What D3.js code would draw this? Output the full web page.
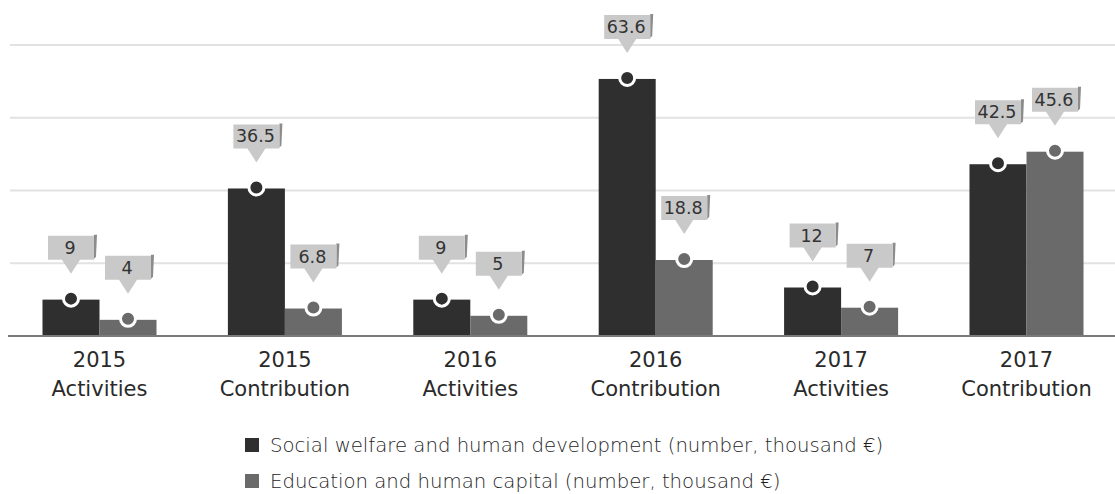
<!DOCTYPE html>
<html>
<head>
<meta charset="utf-8">
<script src="https://cdn.jsdelivr.net/npm/d3@7"></script>
<style>
  html, body { margin: 0; padding: 0; background: #fff; }
  svg { display: block; }
</style>
</head>
<body>
<svg id="chart" width="1115" height="494"></svg>
<script>
// Categories (two-line labels) and the two series, values in number / thousand €
const years = ["2015", "2015", "2016", "2016", "2017", "2017"];
const kinds = ["Activities", "Contribution", "Activities", "Contribution", "Activities", "Contribution"];
const socialWelfare = [9, 36.5, 9, 63.6, 12, 42.5];
const education = [4, 6.8, 5, 18.8, 7, 45.6];
const seriesNames = [
  "Social welfare and human development (number, thousand €)",
  "Education and human capital (number, thousand €)"
];
const gridTicks = [18, 36, 54, 72];

const colors = ["#2f2f2f", "#6a6a6a"];
const svg = d3.select("#chart");

const x0 = d3.scaleBand()
  .domain(d3.range(years.length))
  .range([6.8, 1119.2])
  .paddingInner(0.385)
  .paddingOuter(0.1925);

const x1 = d3.scaleBand()
  .domain([0, 1])
  .range([0, x0.bandwidth()]);

const y = d3.scaleLinear().domain([0, 72]).range([336, 45]);

// Horizontal grid lines
svg.append("g")
  .selectAll("line")
  .data(gridTicks)
  .join("line")
  .attr("x1", 10).attr("x2", 1115)
  .attr("y1", d => y(d)).attr("y2", d => y(d))
  .attr("stroke", "#e2e2e2")
  .attr("stroke-width", 2);

// Flatten the data for bars
const rows = [];
years.forEach((yr, i) => {
  [socialWelfare[i], education[i]].forEach((v, s) => rows.push({ i, s, v }));
});

svg.append("g")
  .selectAll("rect")
  .data(rows)
  .join("rect")
  .attr("x", d => x0(d.i) + x1(d.s))
  .attr("width", x1.bandwidth())
  .attr("y", d => y(d.v))
  .attr("height", d => y(0) - y(d.v))
  .attr("fill", d => colors[d.s]);

// Baseline axis
const axis = svg.append("g")
  .attr("transform", `translate(0,${y(0)})`)
  .call(d3.axisBottom(x0).tickSize(0).tickFormat(""));
axis.select(".domain").remove();
axis.append("line")
  .attr("x1", 8).attr("x2", 1115)
  .attr("stroke", "#7a7a7a").attr("stroke-width", 2);

// Category labels, two lines each
const labels = svg.append("g")
  .attr("font-family", "'DejaVu Sans', sans-serif")
  .attr("font-size", 21)
  .attr("fill", "#2a2a2a")
  .attr("text-anchor", "middle");
years.forEach((yr, i) => {
  const cx = x0(i) + x0.bandwidth() / 2;
  const t = labels.append("text").attr("x", cx);
  t.append("tspan").attr("x", cx).attr("y", 367).text(yr);
  t.append("tspan").attr("x", cx).attr("y", 396).text(kinds[i]);
});

// Value markers and callouts
const callouts = svg.append("g");
rows.forEach(d => {
  const cx = x0(d.i) + x1(d.s) + x1.bandwidth() / 2;
  const top = y(d.v);
  const tip = top - 26;
  const bb = tip - 14;
  const bt = bb - 24;
  const w = 46, hw = w / 2;
  const g = callouts.append("g");
  // folded right edge
  g.append("path")
    .attr("d", `M${cx + hw},${bt - 1} L${cx + hw + 3},${bt - 1} L${cx + hw + 2},${bb - 3} L${cx + hw},${bb - 1} Z`)
    .attr("fill", "#8c8c8c");
  // box with pointer
  g.append("path")
    .attr("d", `M${cx - hw},${bt} H${cx + hw} V${bb} H${cx + 9} L${cx},${tip} L${cx - 9},${bb} H${cx - hw} Z`)
    .attr("fill", "#c9c9c9");
  g.append("text")
    .attr("x", cx - 1)
    .attr("y", bt + 18)
    .attr("text-anchor", "middle")
    .attr("font-family", "'DejaVu Sans', sans-serif")
    .attr("font-size", 17.5)
    .attr("fill", "#333")
    .text(d.v);
  // marker on the bar top
  g.append("circle")
    .attr("cx", cx)
    .attr("cy", top - 1)
    .attr("r", 7.5)
    .attr("fill", colors[d.s])
    .attr("stroke", "#fff")
    .attr("stroke-width", 3);
});

// Legend
const legend = svg.append("g")
  .attr("font-family", "'DejaVu Sans', sans-serif")
  .attr("font-weight", 200)
  .attr("font-size", 19.7)
  .attr("fill", "#1e1e1e");
seriesNames.forEach((name, s) => {
  const ly = 445 + s * 36;
  legend.append("rect")
    .attr("x", 245).attr("y", ly - 7)
    .attr("width", 14).attr("height", 14)
    .attr("fill", colors[s]);
  legend.append("text")
    .attr("x", 270).attr("y", ly + 7)
    .text(name);
});
</script>
</body>
</html>
